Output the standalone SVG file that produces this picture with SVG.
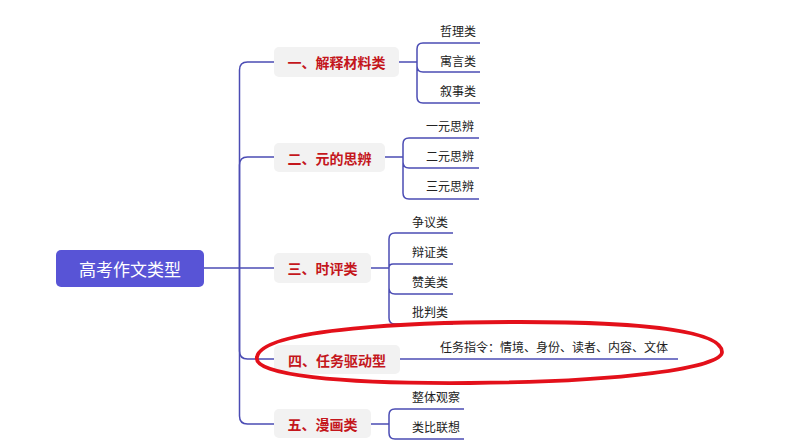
<svg xmlns="http://www.w3.org/2000/svg" width="794" height="447" viewBox="0 0 794 447">
<style>
.c{fill:none;stroke:#4b4cb4;stroke-width:1.5}
.bx{fill:#f2f2f2}
.bt{font-family:"Noto Sans CJK SC","Noto Sans",sans-serif;font-size:14px;font-weight:bold;fill:#c4161c;text-anchor:middle;dominant-baseline:central}
.lt{font-family:"Noto Sans CJK SC","Noto Sans",sans-serif;font-size:12px;fill:#222;dominant-baseline:central}
</style>
<rect width="794" height="447" fill="#fff"/>
<g id="connectors">
<path class="c" d="M204,268 L274,268"/>
<path class="c" d="M239.5,268 L239.5,70 Q239.5,62 247.5,62 L274,62"/>
<path class="c" d="M239.5,268 L239.5,165 Q239.5,157 247.5,157 L274,157"/>
<path class="c" d="M239.5,268 L239.5,351 Q239.5,359 247.5,359 L274,359"/>
<path class="c" d="M239.5,268 L239.5,416 Q239.5,424 247.5,424 L274,424"/>
<path class="c" d="M399,62 L417,62 M417,62 L417,49 Q417,43 423,43 L480,43 M417,62 L417,66 Q417,72 423,72 L480,72 M417,62 L417,97 Q417,103 423,103 L480,103"/>
<path class="c" d="M385,157 L403,157 M403,157 L403,144 Q403,138 409,138 L479,138 M403,157 L403,162 Q403,168 409,168 L479,168 M403,157 L403,193 Q403,199 409,199 L479,199"/>
<path class="c" d="M371,268 L389,268 M389,268 L389,239 Q389,233 395,233 L453,233 M389,268 Q389,264 393,264 L453,264 M389,268 L389,288 Q389,294 395,294 L453,294 M389,268 L389,318 Q389,324 395,324 L453,324"/>
<path class="c" d="M400,359 L678,359"/>
<path class="c" d="M371,424 L389,424 M389,424 L389,415 Q389,409 395,409 L464,409 M389,424 L389,433 Q389,439 395,439 L464,439"/>
</g>
<g id="root">
<rect x="56" y="250" width="148" height="37" rx="5" fill="#5854d6"/>
<text x="130" y="268.5" font-family="Noto Sans CJK SC,Noto Sans,sans-serif" font-size="17" fill="#fff" text-anchor="middle" dominant-baseline="central">高考作文类型</text>
</g>
<g id="b1">
<rect class="bx" x="274" y="47" width="125" height="30" rx="5"/>
<text class="bt" x="336.5" y="62">一、解释材料类</text>
</g>
<g id="b2">
<rect class="bx" x="274" y="143" width="111" height="29" rx="5"/>
<text class="bt" x="329.5" y="157.5">二、元的思辨</text>
</g>
<g id="b3">
<rect class="bx" x="274" y="253" width="97" height="30" rx="5"/>
<text class="bt" x="322.5" y="268">三、时评类</text>
</g>
<g id="b4">
<rect class="bx" x="274" y="345" width="126" height="29" rx="5"/>
<text class="bt" x="337" y="359.5">四、任务驱动型</text>
</g>
<g id="b5">
<rect class="bx" x="274" y="409" width="97" height="29" rx="5"/>
<text class="bt" x="322.5" y="423.5">五、漫画类</text>
</g>
<g id="l1a"><text class="lt" x="440" y="30">哲理类</text></g>
<g id="l1b"><text class="lt" x="440" y="60">寓言类</text></g>
<g id="l1c"><text class="lt" x="440" y="90">叙事类</text></g>
<g id="l2a"><text class="lt" x="426" y="125">一元思辨</text></g>
<g id="l2b"><text class="lt" x="426" y="155">二元思辨</text></g>
<g id="l2c"><text class="lt" x="426" y="185">三元思辨</text></g>
<g id="l3a"><text class="lt" x="412" y="221">争议类</text></g>
<g id="l3b"><text class="lt" x="412" y="251">辩证类</text></g>
<g id="l3c"><text class="lt" x="412" y="281">赞美类</text></g>
<g id="l3d"><text class="lt" x="412" y="311">批判类</text></g>
<g id="l4a"><text class="lt" x="440" y="346" font-size="12.6">任务指令：情境、身份、读者、内容、文体</text></g>
<g id="l5a"><text class="lt" x="412" y="396">整体观察</text></g>
<g id="l5b"><text class="lt" x="412" y="426">类比联想</text></g>
<path d="M257,357 C262,328 420,322 520,322 C640,322 722,330 722,352 C722,368 620,382 470,383 C340,384 252,375 257,357 Z" fill="none" stroke="#e3101a" stroke-width="3.8"/>
</svg>
